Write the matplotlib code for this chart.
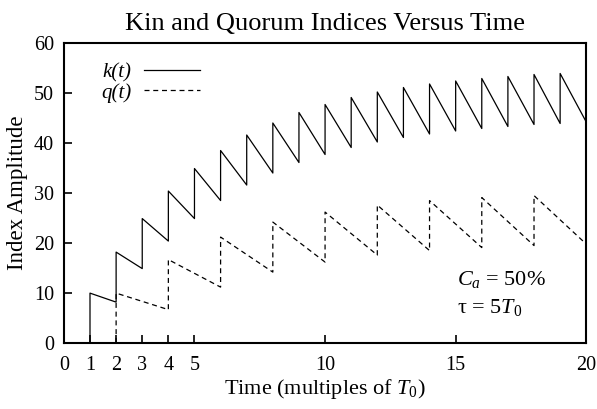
import matplotlib
matplotlib.use("Agg")
from matplotlib import pyplot as plt

plt.rcParams['font.family'] = ['Liberation Serif', 'DejaVu Serif']
plt.rcParams['mathtext.fontset'] = 'custom'
plt.rcParams['mathtext.rm'] = 'Liberation Serif'
plt.rcParams['mathtext.it'] = 'Liberation Serif:italic'

# k(t): jumps every T0, values just after each jump and just before the next
k_times = [1, 2, 3, 4, 5, 6, 7, 8, 9, 10, 11, 12, 13, 14, 15, 16, 17, 18, 19]
k_peak = [10.0, 18.2, 24.9, 30.4, 34.9, 38.5, 41.6, 44.0, 46.1, 47.7,
          49.1, 50.2, 51.1, 51.8, 52.4, 52.9, 53.3, 53.7, 53.9]
k_end = [8.2, 14.9, 20.4, 24.9, 28.5, 31.6, 34.0, 36.1, 37.7, 39.1,
         40.2, 41.1, 41.8, 42.4, 42.9, 43.3, 43.7, 43.9, 44.2]
k_step = 1

# q(t): jumps every 2 T0
q_times = [2, 4, 6, 8, 10, 12, 14, 16, 18]
q_peak = [10.0, 16.7, 21.2, 24.2, 26.2, 27.6, 28.5, 29.1, 29.5]
q_end = [6.7, 11.2, 14.2, 16.2, 17.6, 18.5, 19.1, 19.5, 19.8]
q_step = 2

x_ticks = [0, 1, 2, 3, 4, 5, 10, 15, 20]
y_ticks = [0, 10, 20, 30, 40, 50, 60]


def saw(times, peaks, ends, step):
    xs, ys = [0, times[0]], [0, 0]
    for t, p, e in zip(times, peaks, ends):
        xs += [t, t + step]
        ys += [p, e]
    return xs, ys


fig = plt.figure(figsize=(5.97, 4.09), dpi=100)
ax = fig.add_axes([0.107, 0.161, 0.875, 0.734])

kx, ky = saw(k_times, k_peak, k_end, k_step)
qx, qy = saw(q_times, q_peak, q_end, q_step)
ax.plot(kx, ky, color='black', lw=0.9, label='k(t)')
ax.plot(qx, qy, color='black', lw=0.9, dashes=(4, 3), label='q(t)')

ax.set_xlim(0, 20)
ax.set_ylim(0, 60)
ax.set_xticks(x_ticks)
ax.set_yticks(y_ticks)
ax.tick_params(direction='in', length=6, width=1.2, labelsize=14.5,
               top=False, right=False)
ax.tick_params(axis='x', pad=9)
ax.tick_params(axis='y', pad=7)
for s in ax.spines.values():
    s.set_linewidth(1.5)

ax.set_title('Kin and Quorum Indices Versus Time', fontsize=19, pad=9)
ax.set_xlabel('Time (multiples of $T_{\\mathit{0}}$)', fontsize=16, labelpad=2)
ax.set_ylabel('Index Amplitude', fontsize=16.5, labelpad=4)

leg = ax.legend(loc='upper left', bbox_to_anchor=(0.035, 0.995), frameon=False,
                markerfirst=False, handlelength=2.7, handletextpad=0.6,
                labelspacing=0.0, prop={'size': 15, 'style': 'italic'})

ax.text(0.753, 0.195, '$C_a$ = 50%', transform=ax.transAxes, fontsize=16)
ax.text(0.753, 0.1, '\u03c4 = 5$T_{\\mathit{0}}$', transform=ax.transAxes, fontsize=16)

fig.savefig('out.png', dpi=100)
